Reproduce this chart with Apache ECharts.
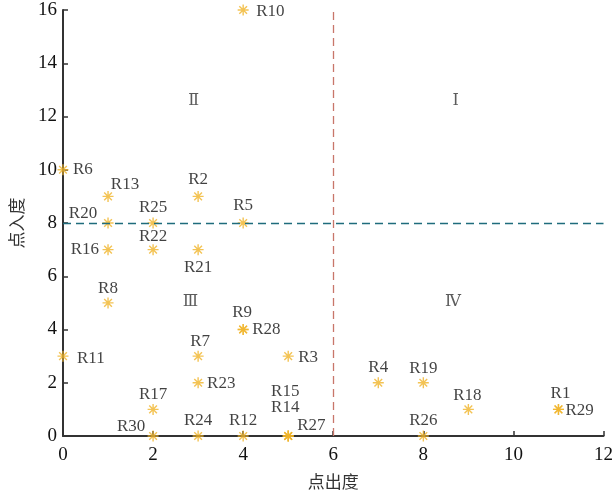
<!DOCTYPE html>
<html>
<head>
<meta charset="utf-8">
<script src="https://cdn.jsdelivr.net/npm/echarts@6/dist/echarts.min.js"></script>
<style>html,body{margin:0;padding:0;background:#fff}#c{width:616px;height:495px}</style>
</head>
<body>
<div id="c"></div>
<script>
// ---- data ----
var names  = ['R1','R2','R3','R4','R5','R6','R7','R8','R9','R10','R11','R12','R13','R14','R15','R16','R17','R18','R19','R20','R21','R22','R23','R24','R25','R26','R27','R28','R29','R30'];
var outDeg = [11,3,5,7,4,0,3,1,4,4,0,4,1,5,5,1,2,9,8,1,3,2,3,3,2,8,5,4,11,2];
var inDeg  = [1,9,3,2,8,10,3,5,4,16,3,0,9,0,0,7,1,1,2,8,7,7,2,0,8,0,0,4,1,0];
var quadNames = ['Ⅰ','Ⅱ','Ⅲ','Ⅳ'];
var quadX = [8.72,2.9,2.83,8.66];
var quadY = [12.58,12.58,5.03,5.03];
var outThreshold = 6;
var inThreshold = 8;

// ---- label styling (offsets in px, align) ----
var lab = {
  R10:['left',13,2], R6:['left',10,0], R13:['center',17,-12], R2:['center',0,-17],
  R20:['center',-25,-9], R25:['center',0,-15], R5:['center',0,-17], R16:['right',-9,0],
  R22:['center',0,-13], R21:['center',0,18], R8:['center',0,-14], R9:['center',-1,-17],
  R28:['left',9,0], R11:['left',14,2], R7:['center',2,-15], R3:['left',10,1],
  R23:['left',9,1], R17:['center',0,-15], R15:['center',-3,-44], R14:['center',-3,-28],
  R27:['left',9,-10], R30:['center',-22,-9], R24:['center',0,-15], R12:['center',0,-15],
  R4:['center',0,-15], R19:['center',0,-14], R18:['center',-1,-14], R1:['center',2,-16],
  R29:['left',7,1], R26:['center',0,-15]
};

var serif = '"Liberation Serif","Times New Roman",serif';
var cjk = '"Noto Sans CJK SC","Noto Sans",sans-serif';
var pts = names.map(function(n,i){
  var s = lab[n];
  return {
    value:[outDeg[i], inDeg[i]], name:n,
    label:{show:true, position:'inside', align:s[0], verticalAlign:'middle', offset:[s[1],s[2]],
      formatter:n, fontFamily:serif, fontSize:17, color:'#111'}
  };
});
var quads = quadNames.map(function(q,i){
  return {value:[quadX[i],quadY[i]], label:{show:true, position:'inside', formatter:q,
    fontFamily:'"DejaVu Serif","Liberation Serif",serif', fontSize:16, color:'#333'}};
});

var chart = echarts.init(document.getElementById('c'));
chart.setOption({
  animation:false,
  grid:{left:62, right:12, top:10, bottom:59, containLabel:false},
  xAxis:{type:'value', min:0, max:12, interval:2,
    name:'点出度', nameLocation:'middle', nameGap:37,
    nameTextStyle:{fontFamily:cjk, fontSize:17, color:'#333'},
    axisLine:{show:true, lineStyle:{color:'#333', width:2}},
    axisTick:{show:true, inside:true, length:5, lineStyle:{color:'#333', width:1.5}},
    axisLabel:{fontFamily:serif, fontSize:19, color:'#111', margin:10},
    splitLine:{show:false}},
  yAxis:{type:'value', min:0, max:16, interval:2,
    name:'点入度', nameLocation:'middle', nameGap:38, nameRotate:90,
    nameTextStyle:{fontFamily:cjk, fontSize:17, color:'#333'},
    axisLine:{show:true, lineStyle:{color:'#333', width:2}},
    axisTick:{show:true, inside:true, length:5, lineStyle:{color:'#333', width:1.5}},
    axisLabel:{fontFamily:serif, fontSize:19, color:'#111', margin:6},
    splitLine:{show:false}},
  series:[
    {type:'scatter', data:pts, z:3,
     symbol:'path://M0,-10L0,10M-10,0L10,0M-7,-7L7,7M-7,7L7,-7',
     symbolSize:11,
     itemStyle:{color:'rgba(0,0,0,0)', borderColor:'#f0b429', borderWidth:1.4},
     markLine:{silent:true, symbol:'none', label:{show:false},
       lineStyle:{color:'#c8766a', type:[8,5], width:1.3},
       emphasis:{disabled:true},
       data:[{xAxis:outThreshold}]}
    },
    {type:'scatter', data:quads, symbolSize:1, itemStyle:{color:'rgba(0,0,0,0)'}, z:2,
     markLine:{silent:true, symbol:'none', label:{show:false},
       lineStyle:{color:'#1f6c7c', type:[8,5], width:1.3},
       emphasis:{disabled:true},
       data:[{yAxis:inThreshold}]}
    }
  ]
});
</script>
</body>
</html>
